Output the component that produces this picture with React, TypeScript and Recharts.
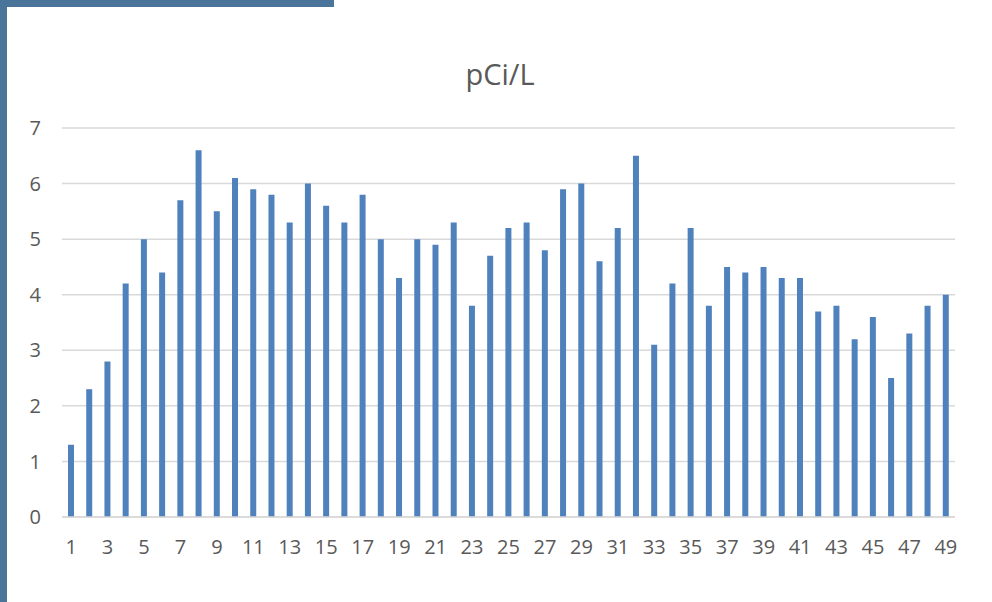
import { BarChart, Bar, XAxis, YAxis, CartesianGrid } from 'recharts';

const samples = Array.from({ length: 49 }, (_, i) => String(i + 1));
const pCiValues = [
  1.3, 2.3, 2.8, 4.2, 5.0, 4.4, 5.7, 6.6, 5.5, 6.1,
  5.9, 5.8, 5.3, 6.0, 5.6, 5.3, 5.8, 5.0, 4.3, 5.0,
  4.9, 5.3, 3.8, 4.7, 5.2, 5.3, 4.8, 5.9, 6.0, 4.6,
  5.2, 6.5, 3.1, 4.2, 5.2, 3.8, 4.5, 4.4, 4.5, 4.3,
  4.3, 3.7, 3.8, 3.2, 3.6, 2.5, 3.3, 3.8, 4.0,
];
const yTicks = [0, 1, 2, 3, 4, 5, 6, 7];

const data = samples.map((s, i) => ({ sample: s, value: pCiValues[i] }));

const font = '"Open Sans", sans-serif';

const App = () => {
  return (
    <div style={{ position: 'absolute', left: 0, top: 0, width: 992, height: 602, background: '#fff', fontFamily: font }}>
      <div style={{ position: 'absolute', left: 0, top: 0, width: 7, height: 602, background: '#4a7499' }} />
      <div style={{ position: 'absolute', left: 0, top: 0, width: 334, height: 7, background: '#4a7499' }} />
      <div style={{ position: 'absolute', left: 0, top: 54, width: 1000, textAlign: 'center', fontSize: 29, color: '#595959', fontFamily: font }}>
        pCi/L
      </div>
      <BarChart
        width={992}
        height={602}
        data={data}
        margin={{ top: 128, right: 37, bottom: 55, left: 20 }}
        style={{ position: 'absolute', left: 0, top: 0 }}
      >
        <CartesianGrid vertical={false} stroke="#d9d9d9" strokeWidth={1.5} />
        <XAxis
          dataKey="sample"
          interval={1}
          height={30}
          tickLine={false}
          tickSize={0}
          tickMargin={23}
          axisLine={{ stroke: '#d9d9d9', strokeWidth: 1.5 }}
          tick={{ fill: '#595959', fontSize: 20, fontFamily: font }}
        />
        <YAxis
          width={42}
          domain={[0, 7]}
          ticks={yTicks}
          axisLine={false}
          tickLine={false}
          tickSize={0}
          tickMargin={21}
          tick={{ fill: '#595959', fontSize: 20, fontFamily: font }}
        />
        <Bar dataKey="value" fill="#4f81bd" barSize={6} isAnimationActive={false} />
      </BarChart>
    </div>
  );
};

export default App;
